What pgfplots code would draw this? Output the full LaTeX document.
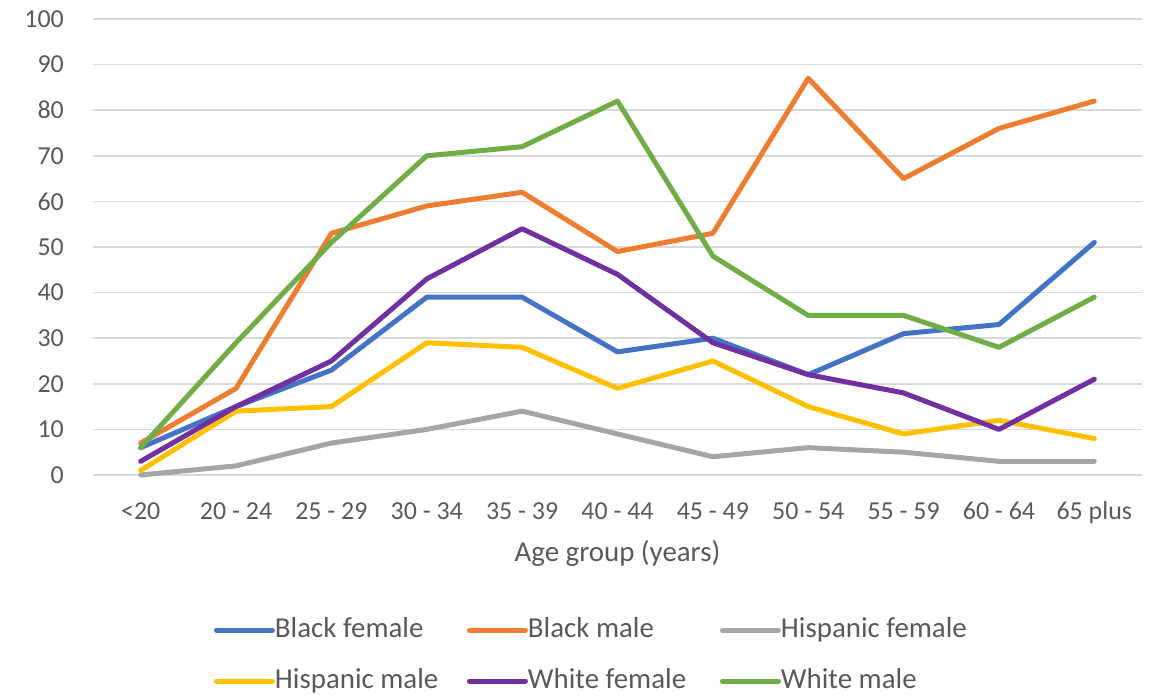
\documentclass[border=0pt]{standalone}
\usepackage{pgfplots}
\pgfplotsset{compat=1.18}
\usepackage{fontspec}
\setmainfont{Carlito}

\definecolor{bfemale}{HTML}{4472C4}
\definecolor{bmale}{HTML}{ED7D31}
\definecolor{hfemale}{HTML}{A5A5A5}
\definecolor{hmale}{HTML}{FFC000}
\definecolor{wfemale}{HTML}{7030A0}
\definecolor{wmale}{HTML}{70AD47}
\definecolor{txt}{HTML}{595959}
\definecolor{grid}{HTML}{D9D9D9}

\newcommand{\entry}[1]{\makebox[190bp][l]{#1}}

\begin{document}
\begin{tikzpicture}
\path (0,0) rectangle (1163bp,695bp);
\begin{axis}[
  at={(93bp,220bp)}, anchor=south west,
  scale only axis, width=1049bp, height=456bp,
  xmin=-0.5, xmax=10.5, ymin=0, ymax=100,
  clip=false,
  xtick={0,...,10},
  xticklabels={<20, 20 - 24, 25 - 29, 30 - 34, 35 - 39, 40 - 44, 45 - 49, 50 - 54, 55 - 59, 60 - 64, 65 plus},
  ytick={0,10,...,100},
  ymajorgrids,
  grid style={color=grid, line width=1.5bp},
  axis line style={draw=none},
  major tick style={draw=none},
  /pgf/number format/assume math mode=true,
  ticklabel style={font=\fontsize{26}{30}\selectfont, text=txt},
  xticklabel style={anchor=base, inner sep=0pt, yshift=-44bp},
  yticklabel style={anchor=east, inner sep=0pt, xshift=-29bp},
  xlabel={Age group (years)},
  xlabel style={at={(axis description cs:0.5,-0.1886)}, anchor=base,
    font=\fontsize{29}{34}\selectfont, text=txt, inner sep=0pt},
  legend columns=3,
  legend cell align=left,
  legend image code/.code={
    \path (0bp,0bp) -- (56bp,0bp);
    \draw[#1, line width=5bp, line cap=round] (2.5bp,0bp) -- (53.5bp,0bp);
  },
  legend style={
    at={(axis description cs:0.1153,-0.3114)}, anchor=north west,
    draw=none, fill=none, inner sep=0pt, outer sep=0pt,
    font=\fontsize{29}{34}\selectfont, text=txt,
    nodes={inner sep=0pt, text height=20bp, text depth=6bp},
    row sep=25bp,
    /tikz/every odd column/.append style={column sep=0bp},
    /tikz/every even column/.append style={column sep=2bp},
  },
  every axis plot/.append style={line width=5bp, line join=round, line cap=round},
]
\addplot[bfemale] coordinates {(0,6) (1,15) (2,23) (3,39) (4,39) (5,27) (6,30) (7,22) (8,31) (9,33) (10,51)};
\addlegendentry{\entry{Black female}}
\addplot[bmale] coordinates {(0,7) (1,19) (2,53) (3,59) (4,62) (5,49) (6,53) (7,87) (8,65) (9,76) (10,82)};
\addlegendentry{\entry{Black male}}
\addplot[hfemale] coordinates {(0,0) (1,2) (2,7) (3,10) (4,14) (5,9) (6,4) (7,6) (8,5) (9,3) (10,3)};
\addlegendentry{\entry{Hispanic female}}
\addplot[hmale] coordinates {(0,1) (1,14) (2,15) (3,29) (4,28) (5,19) (6,25) (7,15) (8,9) (9,12) (10,8)};
\addlegendentry{\entry{Hispanic male}}
\addplot[wfemale] coordinates {(0,3) (1,15) (2,25) (3,43) (4,54) (5,44) (6,29) (7,22) (8,18) (9,10) (10,21)};
\addlegendentry{\entry{White female}}
\addplot[wmale] coordinates {(0,6) (1,29) (2,51) (3,70) (4,72) (5,82) (6,48) (7,35) (8,35) (9,28) (10,39)};
\addlegendentry{\entry{White male}}
\end{axis}
\end{tikzpicture}
\end{document}
